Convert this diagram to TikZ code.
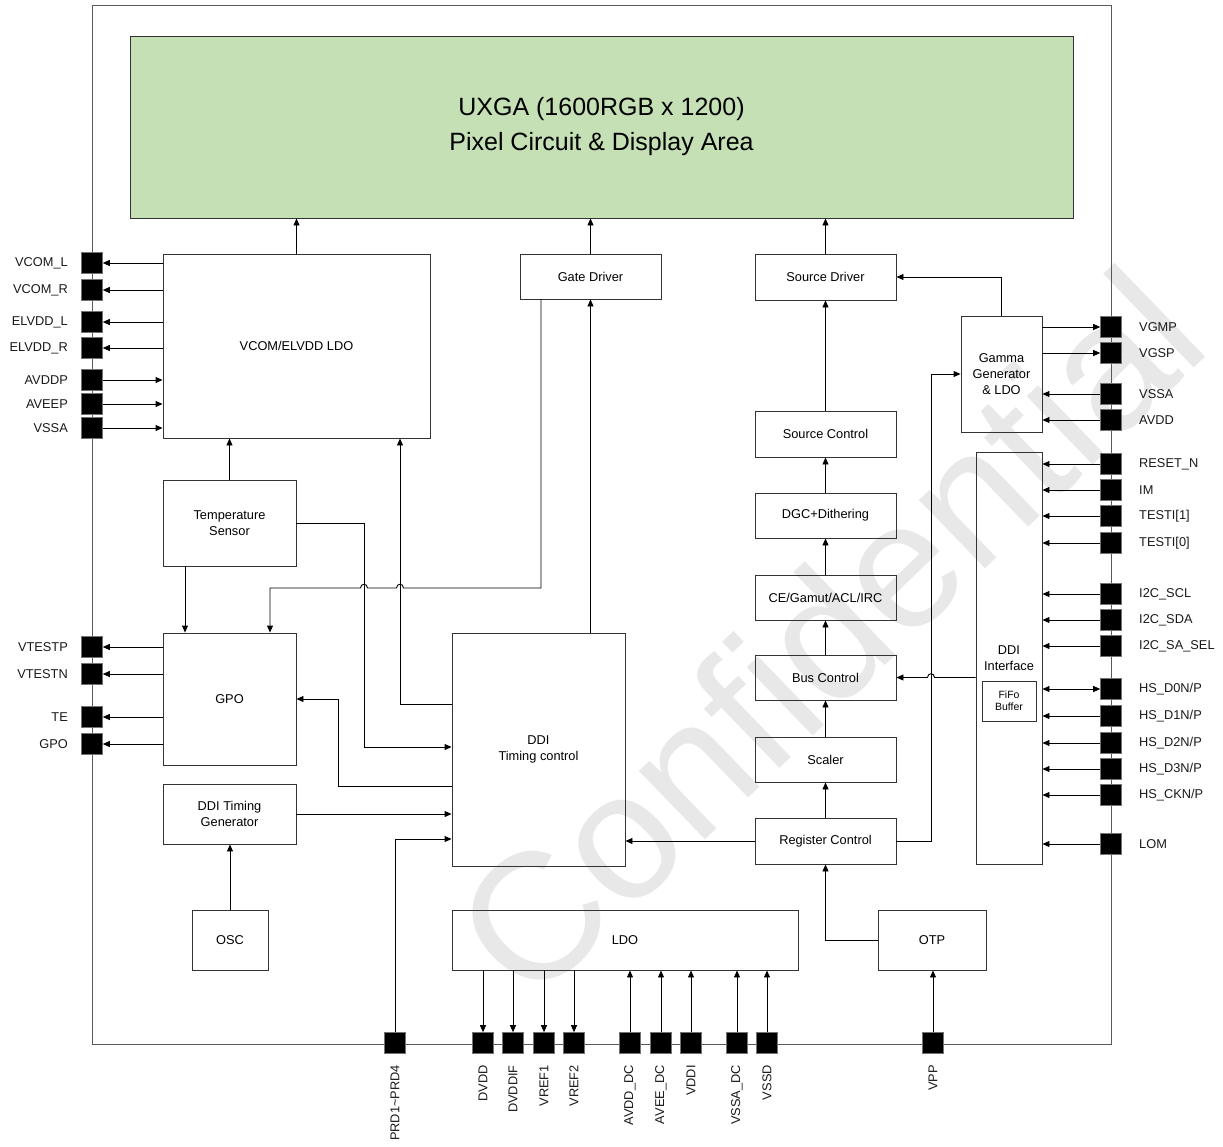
\documentclass[tikz,border=0pt]{standalone}
\usepackage{fontspec}
\setmainfont{Liberation Sans}
\usetikzlibrary{arrows.meta}
\definecolor{dispgreen}{HTML}{C5E0B4}
\definecolor{wmgray}{HTML}{E8E8E8}
\newcommand\lblfont{\fontsize{12.8}{15.6}\selectfont}
\newcommand\bigfont{\fontsize{25}{35}\selectfont}
\newcommand\smallfont{\fontsize{10.5}{12}\selectfont}
\begin{document}
\begin{tikzpicture}[x=1pt,y=-1pt,
  >={Triangle[length=7pt,width=6pt]},
  box/.style={draw=black!80,line width=0.9pt,inner sep=0pt,align=center,font=\lblfont},
  pin/.style={fill=black,draw=black!55,line width=0.6pt,minimum size=21pt,inner sep=0pt},
  wire/.style={line width=0.9pt,draw=black},
  frameline/.style={line width=1pt,draw=black!65},
  lbl/.style={font=\lblfont,inner sep=0pt,text=black!90},
]
\useasboundingbox (0,0) rectangle (1223,1146);
% watermark
\node[font=\fontsize{180}{180}\selectfont,text=wmgray,rotate=44,inner sep=0pt] (wmk) at (828,632) {Confidential};
% frame
\draw[frameline] (92,5) rectangle (1111,1044);
% blocks
\node[box,fill=dispgreen,font=\bigfont,minimum width=943pt,minimum height=182pt] (disp) at (601.5,127) {UXGA (1600RGB x 1200)\\Pixel Circuit \& Display Area};
\node[box,minimum width=267pt,minimum height=184pt] (vcom) at (296.5,346) {VCOM/ELVDD LDO};
\node[box,minimum width=141pt,minimum height=45pt] (gate) at (590.5,276.5) {Gate Driver};
\node[box,minimum width=141pt,minimum height=46pt] (srcdrv) at (825.5,277) {Source Driver};
\node[box,minimum width=81pt,minimum height=116pt] (gamma) at (1001.5,374) {Gamma\\Generator\\\& LDO};
\node[box,minimum width=141pt,minimum height=46pt] (srcctl) at (825.5,434) {Source Control};
\node[box,minimum width=141pt,minimum height=45pt] (dgc) at (825.5,515.5) {DGC+Dithering};
\node[box,minimum width=141pt,minimum height=45pt] (ce) at (825.5,597.5) {CE/Gamut/ACL/IRC};
\node[box,minimum width=141pt,minimum height=45pt] (bus) at (825.5,677.5) {Bus Control};
\node[box,minimum width=141pt,minimum height=45pt] (scaler) at (825.5,759.5) {Scaler};
\node[box,minimum width=141pt,minimum height=46pt] (reg) at (825.5,841) {Register Control};
\node[box,minimum width=66pt,minimum height=412pt] (ddiif) at (1009,658) {DDI\\Interface};
\node[box,font=\smallfont,minimum width=54pt,minimum height=40pt] (fifo) at (1009,701) {FiFo\\Buffer};
\node[box,minimum width=133pt,minimum height=86pt] (temp) at (229.5,523) {Temperature\\Sensor};
\node[box,minimum width=133pt,minimum height=132pt] (gpo) at (229.5,699) {GPO};
\node[box,minimum width=133pt,minimum height=60pt] (ddtg) at (229.5,814) {DDI Timing\\Generator};
\node[box,minimum width=76pt,minimum height=60pt] (osc) at (230,940) {OSC};
\node[box,minimum width=173pt,minimum height=233pt] (ddtc) at (538.5,749.5) {DDI\\Timing control};
\node[box,minimum width=346pt,minimum height=60pt] (ldo) at (625,940) {LDO};
\node[box,minimum width=108pt,minimum height=60pt] (otp) at (932,940) {OTP};
% left pins
\foreach \n/\y/\t in {pVL/263/{VCOM\_L},pVR/290/{VCOM\_R},pEL/322/{ELVDD\_L},pER/348/{ELVDD\_R},pAP/380/{AVDDP},pAE/404/{AVEEP},pVS/428/{VSSA},pTP/647/{VTESTP},pTN/674/{VTESTN},pTE/717/{TE},pGP/744/{GPO}}{
  \node[pin] (\n) at (92,\y) {};
  \node[lbl,anchor=east] (\n-l) at (68,\y) {\t};
}
% right pins
\foreach \n/\y/\t in {pGM/327/{VGMP},pGS/353/{VGSP},pRS/394/{VSSA},pRA/420/{AVDD},pRST/464/{RESET\_N},pIM/490/{IM},pT1/516/{TESTI[1]},pT0/543/{TESTI[0]},pSCL/594/{I2C\_SCL},pSDA/620/{I2C\_SDA},pSEL/646/{I2C\_SA\_SEL},pD0/689/{HS\_D0N/P},pD1/716/{HS\_D1N/P},pD2/743/{HS\_D2N/P},pD3/769/{HS\_D3N/P},pCK/795/{HS\_CKN/P},pLOM/844/{LOM}}{
  \node[pin] (\n) at (1111,\y) {};
  \node[lbl,anchor=west] (\n-l) at (1139,\y) {\t};
}
% bottom pins
\foreach \n/\x/\t in {pPRD/395/{PRD1\textasciitilde PRD4},pDV/483/{DVDD},pDVI/513/{DVDDIF},pR1/544/{VREF1},pR2/574/{VREF2},pAD/630/{AVDD\_DC},pAEd/661/{AVEE\_DC},pVDI/691/{VDDI},pVSd/737/{VSSA\_DC},pVSSD/767/{VSSD},pVPP/933/{VPP}}{
  \node[pin] (\n) at (\x,1043) {};
  \node[lbl,anchor=east,rotate=90] (\n-l) at (\x,1065) {\t};
}
% left pin wires
\foreach \n in {pVL,pVR,pEL,pER}{\draw[wire,->] (vcom.west |- \n) -- (\n.east);}
\foreach \n in {pAP,pAE,pVS}{\draw[wire,->] (\n.east) -- (vcom.west |- \n);}
\foreach \n in {pTP,pTN,pTE,pGP}{\draw[wire,->] (gpo.west |- \n) -- (\n.east);}
% right pin wires
\foreach \n in {pGM,pGS}{\draw[wire,->] (gamma.east |- \n) -- (\n.west);}
\foreach \n in {pRS,pRA}{\draw[wire,->] (\n.west) -- (gamma.east |- \n);}
\foreach \n in {pRST,pIM,pT1,pT0,pSCL,pSDA,pSEL,pD1,pD2,pD3,pCK,pLOM}{\draw[wire,->] (\n.west) -- (ddiif.east |- \n);}
\draw[wire,<->] (ddiif.east |- pD0) -- (pD0.west);
% bottom pin wires
\foreach \n in {pDV,pDVI,pR1,pR2}{\draw[wire,->] (\n |- ldo.south) -- (\n.north);}
\foreach \n in {pAD,pAEd,pVDI,pVSd,pVSSD}{\draw[wire,->] (\n.north) -- (\n |- ldo.south);}
\draw[wire,->] (pVPP.north) -- (pVPP.north |- otp.south);
\coordinate (k3) at (395,839);
\draw[wire,->] (pPRD.north) -- (k3) -- (k3 -| ddtc.west);
% display feeds
\draw[wire,->] (vcom.north) -- (vcom.north |- disp.south);
\draw[wire,->] (gate.north) -- (gate.north |- disp.south);
\draw[wire,->] (srcdrv.north) -- (srcdrv.north |- disp.south);
% right chain
\draw[wire,->] (gamma.north) |- (srcdrv.east);
\draw[wire,->] (srcctl.north) -- (srcdrv.south);
\draw[wire,->] (dgc.north) -- (srcctl.south);
\draw[wire,->] (ce.north) -- (dgc.south);
\draw[wire,->] (bus.north) -- (ce.south);
\draw[wire,->] (scaler.north) -- (bus.south);
\draw[wire,->] (reg.north) -- (scaler.south);
\coordinate (gin) at (931,374);
\draw[wire,->] (reg.east) -| (gin) -- (gin -| gamma.west);
\draw[wire,->] (ddiif.west |- bus.east) -- (934.5,677.5) .. controls (934.5,672.5) and (927.5,672.5) .. (927.5,677.5) -- (bus.east);
\draw[wire,->] (reg.west) -- (reg.west -| ddtc.east);
\draw[wire,->] (otp.west) -| (reg.south);
% left internal
\draw[wire,->] (temp.north) -- (temp.north |- vcom.south);
\coordinate (ts) at (185,566);
\draw[wire,->] (ts) -- (ts |- gpo.north);
\draw[wire,->] (osc.north) -- (osc.north |- ddtg.south);
\draw[wire,->] (ddtg.east) -- (ddtg.east -| ddtc.west);
\coordinate (k1) at (338,786);
\coordinate (k2) at (338,699);
\draw[wire,->] (k1 -| ddtc.west) -- (k1) -- (k2) -- (k2 -| gpo.east);
\coordinate (t1) at (364,523);
\coordinate (t2) at (364,747);
\draw[wire,->] (temp.east) -- (t1) -- (t2) -- (t2 -| ddtc.west);
\coordinate (v1) at (400,704);
\draw[wire,->] (v1 -| ddtc.west) -- (v1) -- (v1 |- vcom.south);
\draw[wire,->] (gate.south |- ddtc.north) -- (gate.south);
\coordinate (g1) at (541,299);
\coordinate (g2) at (270,588);
\draw[wire,->] (g1) -- (541,588) -- (403.5,588) .. controls (403.5,583) and (396.5,583) .. (396.5,588) -- (367.5,588) .. controls (367.5,583) and (360.5,583) .. (360.5,588) -- (g2) -- (g2 |- gpo.north);
\end{tikzpicture}
\end{document}
